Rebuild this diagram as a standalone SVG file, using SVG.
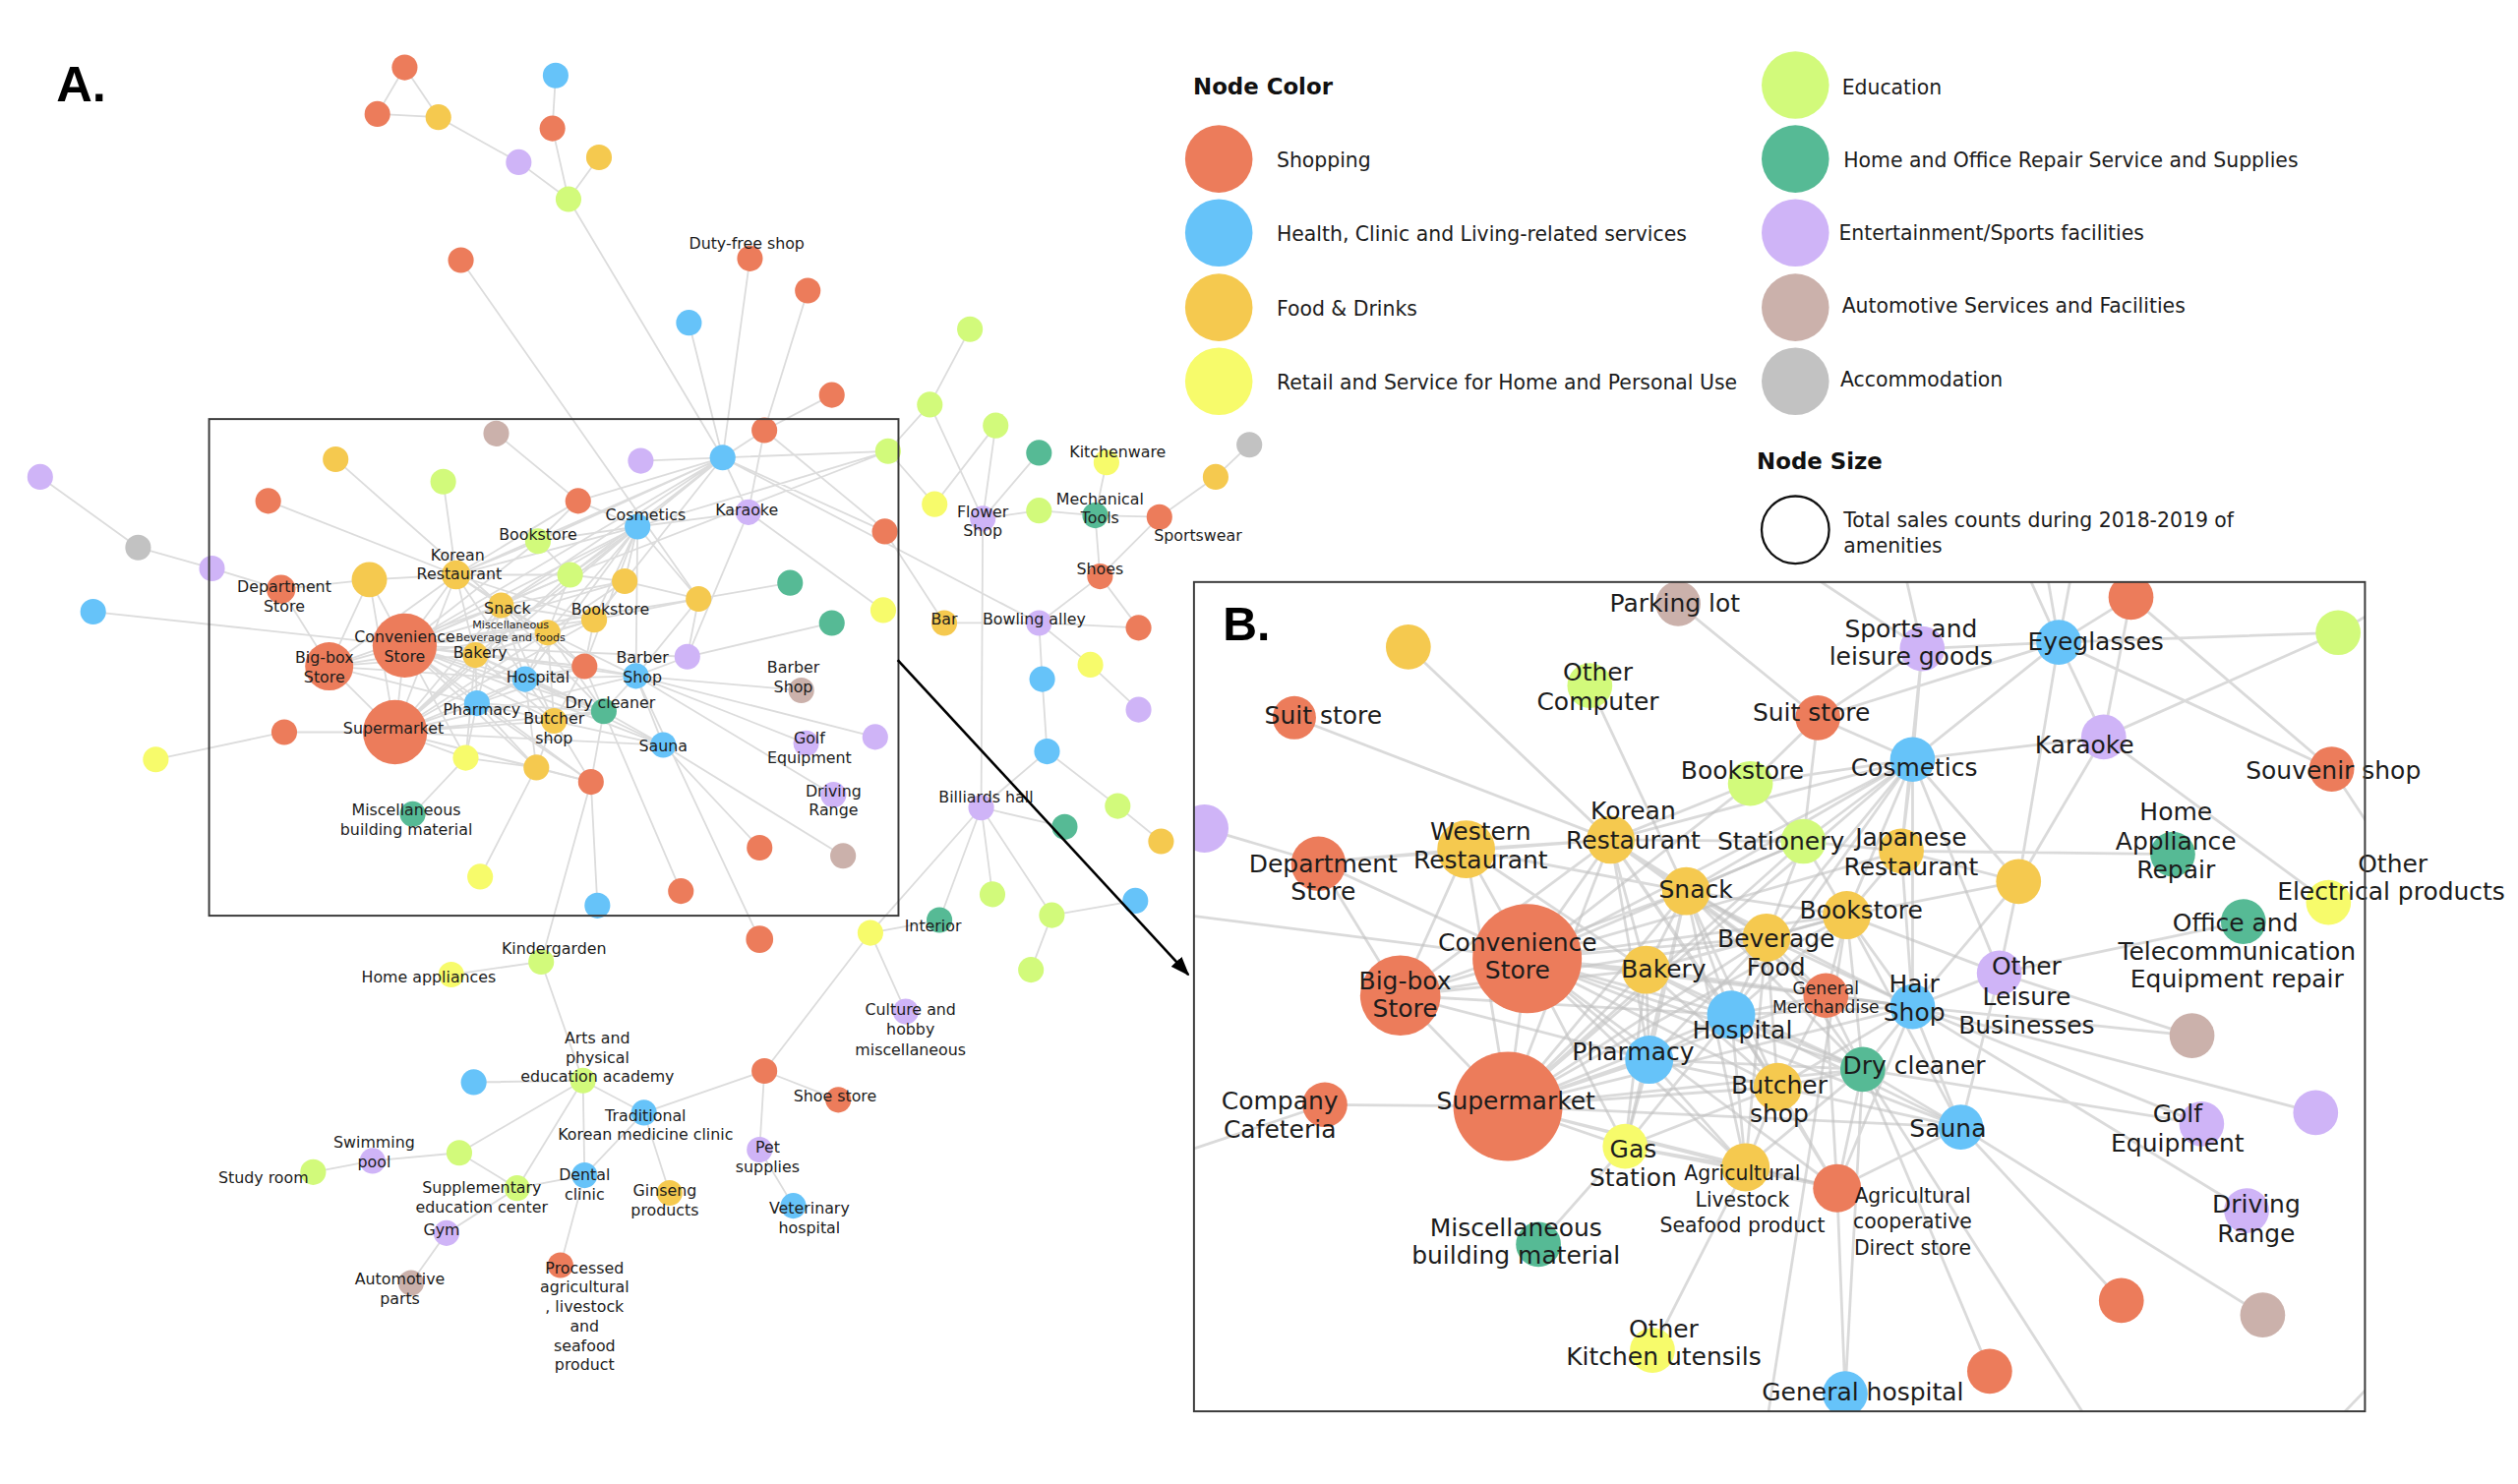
<svg xmlns="http://www.w3.org/2000/svg" width="2560" height="1509" viewBox="0 0 2560 1509">
<defs>
<style>
.ea path{fill:none;stroke:#dcdcdc;stroke-width:1.1}
.eb path{fill:none;stroke:#c2c2c2;stroke-width:1.7;stroke-opacity:.6}
text{font-family:"DejaVu Sans","Noto Sans",sans-serif;fill:#1c1c1c}
.la{font-size:9.7px;text-anchor:middle}
.ls{font-size:6.8px;text-anchor:middle}
.lb{font-size:15.3px;text-anchor:middle}
.lm{font-size:12.5px;text-anchor:middle}
.lx{font-size:10.5px;text-anchor:middle}
.lg{font-size:12.5px}
.hd{font-size:14px;font-weight:bold;fill:#111}
.big{font-family:"Liberation Sans",Arial,sans-serif;font-weight:bold;fill:#000}
.S{fill:#EC7C5B}.H{fill:#66C3F9}.F{fill:#F5C94F}.Y{fill:#F7FB6B}.E{fill:#D2FA7B}.R{fill:#56BA95}.P{fill:#CFB4F7}.A{fill:#CBB1AB}.C{fill:#C2C2C2}
.box{fill:none;stroke:#3a3a3a;stroke-width:1.2}
</style>
<clipPath id="cb"><rect x="743.5" y="362.5" width="729" height="516.5"/></clipPath>
<marker id="ah" markerUnits="userSpaceOnUse" markerWidth="12" markerHeight="9" refX="11" refY="4.5" orient="auto"><path d="M0 0L12 4.5L0 9z" fill="#000"/></marker>
</defs>
<rect width="2560" height="1509" fill="#fff"/>
<g transform="scale(1.632653)">
<text class="big" x="35" y="63" font-size="31">A.</text>

<g id="connectors-a" class="ea">
<path d="M252 42L235 71M252 42L273 73M235 71L273 73M273 73L323 101M323 101L354 124M346 47L344 80M344 80L354 124M373 98L354 124M354 124L450 285M287 162L435 373M467 161L450 285M429 201L450 285M503 181L476 268M518 246L476 268M476 268L450 285M476 268L466 319M476 268L551 330M450 285L399 287M450 285L553 281M450 285L647 388M553 281L579 252M579 252L604 205M579 252L612 323M553 281L582 314M620 265L582 314M620 265L612 323M647 282L612 323M689 288L682 321M757 297L778 277M757 297L722 322M612 323L647 318M647 318L682 321M682 321L722 322M682 321L685 359M685 359L722 322M685 359L647 388M685 359L709 391M588 388L647 388M647 388L709 391M551 331L588 388M647 388L649 423M647 388L679 414M679 414L709 442M649 423L652 468M652 468L611 503M652 468L696 502M696 502L723 524M612 323L611 503M611 503L663 515M611 503L618 557M611 503L655 570M611 503L585 573M611 503L542 581M655 570L707 561M655 570L642 604M585 573L542 581M542 581L564 630M542 581L476 667"/>
<path d="M25 297L86 341M86 341L132 354M132 354L175 367M175 367L230 361M230 361L284 358M58 381L252 402M97 473L177 456M177 456L246 456M167 312L284 358M209 286L312 377M276 300L284 358M309 270L360 312M360 312L450 285M360 312L335 337M360 312L284 358M257 507L290 472M299 546L334 478M372 564L368 487M368 487L337 599M337 599L281 607M337 599L363 673"/>
<path d="M363 673L295 674M363 673L286 718M363 673L322 740M363 673L364 732M363 673L401 693M286 718L232 723M232 723L195 730M286 718L322 740M322 740L278 768M278 768L256 799M322 740L364 732M364 732L401 693M364 732L349 788M401 693L417 743M401 693L476 667M476 667L522 685M476 667L473 716M473 716L494 751"/>
<path d="M466 319L397 328M466 319L550 380M466 319L428 409M435 373L492 363M428 409L518 388M396 421L499 430M396 421L545 459M396 421L502 463M396 421L519 495M413 464L473 528M413 464L525 533M376 443L424 555M396 421L473 585M450 285L551 331M450 285L397 328M450 285L335 337M450 285L284 358M450 285L312 377M450 285L252 402M450 285L370 386M450 285L466 319M450 285L355 358M553 281L397 328M553 281L355 358"/>
<path d="M252 402L246 456M252 402L205 415M246 456L205 415M252 402L284 358M252 402L312 377M252 402L296 408M252 402L341 394M252 402L327 423M252 402L297 438M252 402L345 449M252 402L376 443M252 402L364 415M252 402L370 386M252 402L335 337M252 402L355 358M252 402L389 362M252 402L397 328M252 402L396 421M252 402L413 464M252 402L230 361M252 402L290 472M252 402L334 478M252 402L368 487M252 402L428 409M252 402L435 373"/>
<path d="M246 456L284 358M246 456L312 377M246 456L296 408M246 456L341 394M246 456L327 423M246 456L297 438M246 456L345 449M246 456L376 443M246 456L364 415M246 456L370 386M246 456L355 358M246 456L397 328M246 456L396 421M246 456L413 464M246 456L290 472M246 456L334 478M246 456L368 487M246 456L230 361"/>
<path d="M205 415L284 358M205 415L312 377M205 415L296 408M205 415L327 423M205 415L297 438M205 415L175 367M205 415L230 361M205 415L341 394M284 358L312 377M284 358L296 408M284 358L335 337M284 358L355 358M284 358L341 394M284 358L327 423M284 358L370 386M284 358L397 328"/>
<path d="M312 377L296 408M312 377L341 394M312 377L355 358M312 377L327 423M312 377L297 438M312 377L345 449M312 377L370 386M312 377L397 328M312 377L376 443M312 377L364 415M312 377L389 362M296 408L341 394M296 408L327 423M296 408L297 438M296 408L345 449M296 408L376 443M296 408L364 415M296 408L370 386M296 408L397 328M296 408L290 472"/>
<path d="M341 394L327 423M341 394L370 386M341 394L364 415M341 394L345 449M341 394L376 443M341 394L397 328M341 394L355 358M341 394L389 362M341 394L396 421M327 423L297 438M327 423L345 449M327 423L376 443M327 423L364 415M327 423L396 421M327 423L413 464M327 423L334 478M327 423L397 328M297 438L345 449M297 438L376 443M297 438L290 472M297 438L334 478M297 438L368 487"/>
<path d="M345 449L376 443M345 449L364 415M345 449L334 478M345 449L368 487M345 449L413 464M376 443L364 415M376 443L396 421M376 443L413 464M376 443L368 487M364 415L396 421M364 415L370 386M364 415L397 328M396 421L413 464M396 421L428 409M396 421L397 328M396 421L435 373M397 328L335 337M397 328L355 358M397 328L389 362M397 328L370 386M397 328L360 312M435 373L428 409M435 373L370 386M435 373L389 362M435 373L397 328M335 337L355 358M355 358L389 362M389 362L370 386M290 472L334 478M334 478L368 487"/>
</g>

<g id="nodes-a">
<g id="a-n1"><circle class="S" cx="252" cy="42" r="8"/></g>
<g id="a-n2"><circle class="S" cx="235" cy="71" r="8"/></g>
<g id="a-n3"><circle class="S" cx="344" cy="80" r="8"/></g>
<g id="a-n4"><circle class="S" cx="287" cy="162" r="8"/></g>
<g id="a-n5"><circle class="S" cx="503" cy="181" r="8"/></g>
<g id="a-n6"><circle class="S" cx="518" cy="246" r="8"/></g>
<g id="a-n7"><circle class="S" cx="476" cy="268" r="8"/></g>
<g id="a-n8"><circle class="S" cx="167" cy="312" r="8"/></g>
<g id="a-n9"><circle class="S" cx="360" cy="312" r="8"/></g>
<g id="a-n10"><circle class="S" cx="177" cy="456" r="8"/></g>
<g id="a-n11"><circle class="S" cx="551" cy="331" r="8"/></g>
<g id="a-n12"><circle class="S" cx="364" cy="415" r="8"/></g>
<g id="a-n13"><circle class="S" cx="368" cy="487" r="8"/></g>
<g id="a-n14"><circle class="S" cx="473" cy="528" r="8"/></g>
<g id="a-n15"><circle class="S" cx="424" cy="555" r="8"/></g>
<g id="a-n16"><circle class="S" cx="473" cy="585" r="8.5"/></g>
<g id="a-n17"><circle class="S" cx="709" cy="391" r="8"/></g>
<g id="a-n18"><circle class="S" cx="476" cy="667" r="8"/></g>
<g id="a-n19"><circle class="H" cx="346" cy="47" r="8"/></g>
<g id="a-n20"><circle class="H" cx="429" cy="201" r="8"/></g>
<g id="a-n21"><circle class="H" cx="450" cy="285" r="8"/></g>
<g id="a-n22"><circle class="H" cx="58" cy="381" r="8"/></g>
<g id="a-n23"><circle class="H" cx="372" cy="564" r="8"/></g>
<g id="a-n24"><circle class="H" cx="649" cy="423" r="8"/></g>
<g id="a-n25"><circle class="H" cx="652" cy="468" r="8"/></g>
<g id="a-n26"><circle class="H" cx="707" cy="561" r="8"/></g>
<g id="a-n27"><circle class="H" cx="295" cy="674" r="8"/></g>
<g id="a-n28"><circle class="F" cx="273" cy="73" r="8"/></g>
<g id="a-n29"><circle class="F" cx="373" cy="98" r="8"/></g>
<g id="a-n30"><circle class="F" cx="209" cy="286" r="8"/></g>
<g id="a-n31"><circle class="F" cx="757" cy="297" r="8"/></g>
<g id="a-n32"><circle class="F" cx="230" cy="361" r="11"/></g>
<g id="a-n33"><circle class="F" cx="389" cy="362" r="8"/></g>
<g id="a-n34"><circle class="F" cx="435" cy="373" r="8"/></g>
<g id="a-n35"><circle class="F" cx="334" cy="478" r="8"/></g>
<g id="a-n36"><circle class="F" cx="723" cy="524" r="8"/></g>
<g id="a-n37"><circle class="Y" cx="97" cy="473" r="8"/></g>
<g id="a-n38"><circle class="Y" cx="290" cy="472" r="8"/></g>
<g id="a-n39"><circle class="Y" cx="299" cy="546" r="8"/></g>
<g id="a-n40"><circle class="Y" cx="550" cy="380" r="8"/></g>
<g id="a-n41"><circle class="Y" cx="582" cy="314" r="8"/></g>
<g id="a-n42"><circle class="Y" cx="679" cy="414" r="8"/></g>
<g id="a-n43"><circle class="Y" cx="542" cy="581" r="8"/></g>
<g id="a-n44"><circle class="E" cx="354" cy="124" r="8"/></g>
<g id="a-n45"><circle class="E" cx="276" cy="300" r="8"/></g>
<g id="a-n46"><circle class="E" cx="553" cy="281" r="8"/></g>
<g id="a-n47"><circle class="E" cx="579" cy="252" r="8"/></g>
<g id="a-n48"><circle class="E" cx="604" cy="205" r="8"/></g>
<g id="a-n49"><circle class="E" cx="620" cy="265" r="8"/></g>
<g id="a-n50"><circle class="E" cx="355" cy="358" r="8"/></g>
<g id="a-n51"><circle class="E" cx="647" cy="318" r="8"/></g>
<g id="a-n52"><circle class="E" cx="696" cy="502" r="8"/></g>
<g id="a-n53"><circle class="E" cx="618" cy="557" r="8"/></g>
<g id="a-n54"><circle class="E" cx="655" cy="570" r="8"/></g>
<g id="a-n55"><circle class="E" cx="642" cy="604" r="8"/></g>
<g id="a-n56"><circle class="E" cx="286" cy="718" r="8"/></g>
<g id="a-n57"><circle class="R" cx="647" cy="282" r="8"/></g>
<g id="a-n58"><circle class="R" cx="492" cy="363" r="8"/></g>
<g id="a-n59"><circle class="R" cx="518" cy="388" r="8"/></g>
<g id="a-n60"><circle class="R" cx="663" cy="515" r="8"/></g>
<g id="a-n61"><circle class="P" cx="323" cy="101" r="8"/></g>
<g id="a-n62"><circle class="P" cx="25" cy="297" r="8"/></g>
<g id="a-n63"><circle class="P" cx="132" cy="354" r="8"/></g>
<g id="a-n64"><circle class="P" cx="399" cy="287" r="8"/></g>
<g id="a-n65"><circle class="P" cx="428" cy="409" r="8"/></g>
<g id="a-n66"><circle class="P" cx="545" cy="459" r="8"/></g>
<g id="a-n67"><circle class="P" cx="709" cy="442" r="8"/></g>
<g id="a-n68"><circle class="A" cx="309" cy="270" r="8"/></g>
<g id="a-n69"><circle class="A" cx="525" cy="533" r="8"/></g>
<g id="a-n70"><circle class="C" cx="778" cy="277" r="8"/></g>
<g id="a-n71"><circle class="C" cx="86" cy="341" r="8"/></g>

<g id="a-convenience-store"><circle class="S" cx="252" cy="402" r="20"/><text class="la" x="252" y="400">Convenience<tspan x="252" dy="12">Store</tspan></text></g>
<g id="a-supermarket"><circle class="S" cx="246" cy="456" r="20"/><text class="la" x="245" y="457">Supermarket</text></g>
<g id="a-big-box-store"><circle class="S" cx="205" cy="415" r="15"/><text class="la" x="202" y="413">Big-box<tspan x="202" dy="12">Store</tspan></text></g>
<g id="a-department-store"><circle class="S" cx="175" cy="367" r="9"/><text class="la" x="177" y="369">Department<tspan x="177" dy="12">Store</tspan></text></g>
<g id="a-korean-restaurant"><circle class="F" cx="284" cy="358" r="9"/><text class="la" x="285" y="349">Korean<tspan x="286" dy="12">Restaurant</tspan></text></g>
<g id="a-duty-free-shop"><circle class="S" cx="467" cy="161" r="8"/><text class="la" x="465" y="155">Duty-free shop</text></g>
<g id="a-kitchenware"><circle class="Y" cx="689" cy="288" r="8"/><text class="la" x="696" y="285">Kitchenware</text></g>
<g id="a-mechanical-tools"><circle class="R" cx="682" cy="321" r="8"/><text class="la" x="685" y="314">Mechanical<tspan x="685" dy="12">Tools</tspan></text></g>
<g id="a-flower-shop"><circle class="P" cx="612" cy="323" r="8"/><text class="la" x="612" y="322">Flower<tspan x="612" dy="12">Shop</tspan></text></g>
<g id="a-sportswear"><circle class="S" cx="722" cy="322" r="8"/><text class="la" x="746" y="337">Sportswear</text></g>
<g id="a-shoes"><circle class="S" cx="685" cy="359" r="8"/><text class="la" x="685" y="358">Shoes</text></g>
<g id="a-bar"><circle class="F" cx="588" cy="388" r="8"/><text class="la" x="588" y="389">Bar</text></g>
<g id="a-bowling-alley"><circle class="P" cx="647" cy="388" r="8"/><text class="la" x="644" y="389">Bowling alley</text></g>
<g id="a-cosmetics"><circle class="H" cx="397" cy="328" r="8"/><text class="la" x="402" y="324">Cosmetics</text></g>
<g id="a-karaoke"><circle class="P" cx="466" cy="319" r="8"/><text class="la" x="465" y="321">Karaoke</text></g>
<g id="a-bookstore-1"><circle class="E" cx="335" cy="337" r="8"/><text class="la" x="335" y="336">Bookstore</text></g>
<g id="a-snack"><circle class="F" cx="312" cy="377" r="8"/><text class="la" x="316" y="382">Snack</text></g>
<g id="a-bookstore-2"><circle class="F" cx="370" cy="386" r="8"/><text class="la" x="380" y="383">Bookstore</text></g>
<g id="a-misc-beverage"><circle class="F" cx="341" cy="394" r="8"/><text class="ls" x="318" y="391.5">Miscellaneous<tspan x="318" dy="7.8">Beverage and foods</tspan></text></g>
<g id="a-bakery"><circle class="F" cx="296" cy="408" r="8"/><text class="la" x="299" y="410">Bakery</text></g>
<g id="a-hospital"><circle class="H" cx="327" cy="423" r="8"/><text class="la" x="335" y="425">Hospital</text></g>
<g id="a-barber-shop"><circle class="H" cx="396" cy="421" r="8"/><text class="la" x="400" y="413">Barber<tspan x="400" dy="12">Shop</tspan></text></g>
<g id="a-barber-shop-2"><circle class="A" cx="499" cy="430" r="8"/><text class="la" x="494" y="419">Barber<tspan x="494" dy="12">Shop</tspan></text></g>
<g id="a-pharmacy"><circle class="H" cx="297" cy="438" r="8"/><text class="la" x="300" y="445">Pharmacy</text></g>
<g id="a-dry-cleaner"><circle class="R" cx="376" cy="443" r="8"/><text class="la" x="380" y="441">Dry cleaner</text></g>
<g id="a-butcher-shop"><circle class="F" cx="345" cy="449" r="8"/><text class="la" x="345" y="451">Butcher<tspan x="345" dy="12">shop</tspan></text></g>
<g id="a-sauna"><circle class="H" cx="413" cy="464" r="8"/><text class="la" x="413" y="468">Sauna</text></g>
<g id="a-golf-equipment"><circle class="P" cx="502" cy="463" r="8"/><text class="la" x="504" y="463">Golf<tspan x="504" dy="12">Equipment</tspan></text></g>
<g id="a-driving-range"><circle class="P" cx="519" cy="495" r="8"/><text class="la" x="519" y="496">Driving<tspan x="519" dy="12">Range</tspan></text></g>
<g id="a-billiards-hall"><circle class="P" cx="611" cy="503" r="8"/><text class="la" x="614" y="500">Billiards hall</text></g>
<g id="a-misc-building"><circle class="R" cx="257" cy="507" r="8"/><text class="la" x="253" y="508">Miscellaneous<tspan x="253" dy="12">building material</tspan></text></g>
<g id="a-interior"><circle class="R" cx="585" cy="573" r="8"/><text class="la" x="581" y="580">Interior</text></g>
<g id="a-kindergarden"><circle class="E" cx="337" cy="599" r="8"/><text class="la" x="345" y="594">Kindergarden</text></g>
<g id="a-home-appliances"><circle class="Y" cx="281" cy="607" r="8"/><text class="la" x="267" y="612">Home appliances</text></g>
<g id="a-culture-hobby"><circle class="P" cx="564" cy="630" r="8"/><text class="la" x="567" y="632">Culture and<tspan x="567" dy="12.5">hobby</tspan><tspan x="567" dy="12.5">miscellaneous</tspan></text></g>
<g id="a-arts-academy"><circle class="E" cx="363" cy="673" r="8"/><text class="la" x="372" y="650">Arts and<tspan x="372" dy="12">physical</tspan><tspan x="372" dy="12">education academy</tspan></text></g>
<g id="a-shoe-store"><circle class="S" cx="522" cy="685" r="8"/><text class="la" x="520" y="686">Shoe store</text></g>
<g id="a-traditional-clinic"><circle class="H" cx="401" cy="693" r="8"/><text class="la" x="402" y="698">Traditional<tspan x="402" dy="12">Korean medicine clinic</tspan></text></g>
<g id="a-swimming-pool"><circle class="P" cx="232" cy="723" r="8"/><text class="la" x="233" y="715">Swimming<tspan x="233" dy="12">pool</tspan></text></g>
<g id="a-pet-supplies"><circle class="P" cx="473" cy="716" r="8"/><text class="la" x="478" y="718">Pet<tspan x="478" dy="12">supplies</tspan></text></g>
<g id="a-study-room"><circle class="E" cx="195" cy="730" r="8"/><text class="la" x="164" y="737">Study room</text></g>
<g id="a-supplementary"><circle class="E" cx="322" cy="740" r="8"/><text class="la" x="300" y="743">Supplementary<tspan x="300" dy="12">education center</tspan></text></g>
<g id="a-dental-clinic"><circle class="H" cx="364" cy="732" r="8"/><text class="la" x="364" y="735">Dental<tspan x="364" dy="12">clinic</tspan></text></g>
<g id="a-ginseng"><circle class="F" cx="417" cy="743" r="8"/><text class="la" x="414" y="745">Ginseng<tspan x="414" dy="12">products</tspan></text></g>
<g id="a-veterinary"><circle class="H" cx="494" cy="751" r="8"/><text class="la" x="504" y="756">Veterinary<tspan x="504" dy="12">hospital</tspan></text></g>
<g id="a-gym"><circle class="P" cx="278" cy="768" r="8"/><text class="la" x="275" y="769">Gym</text></g>
<g id="a-automotive-parts"><circle class="A" cx="256" cy="799" r="8"/><text class="la" x="249" y="800">Automotive<tspan x="249" dy="12">parts</tspan></text></g>
<g id="a-processed"><circle class="S" cx="349" cy="788" r="8"/><text class="la" x="364" y="793">Processed<tspan x="364" dy="12">agricultural</tspan><tspan x="364" dy="12">, livestock</tspan><tspan x="364" dy="12.3">and</tspan><tspan x="364" dy="12">seafood</tspan><tspan x="364" dy="12">product</tspan></text></g>
</g>

<rect id="zoom-frame-a" class="box" x="130.2" y="261" width="429.3" height="309.3"/>
<path id="zoom-arrow" d="M559 411L740 607" stroke="#000" stroke-width="1.6" fill="none" marker-end="url(#ah)"/>

<g id="legend">
<text class="hd" x="743" y="59">Node Color</text>
<g id="lg-shopping"><circle class="S" cx="759" cy="99" r="21"/><text class="lg" x="795" y="104">Shopping</text></g>
<g id="lg-health"><circle class="H" cx="759" cy="145" r="21"/><text class="lg" x="795" y="150">Health, Clinic and Living-related services</text></g>
<g id="lg-food"><circle class="F" cx="759" cy="191.5" r="21"/><text class="lg" x="795" y="196.5">Food &amp; Drinks</text></g>
<g id="lg-retail"><circle class="Y" cx="759" cy="237.5" r="21"/><text class="lg" x="795" y="242.5">Retail and Service for Home and Personal Use</text></g>
<g id="lg-education"><circle class="E" cx="1118" cy="53" r="21"/><text class="lg" x="1147" y="59">Education</text></g>
<g id="lg-repair"><circle class="R" cx="1118" cy="99" r="21"/><text class="lg" x="1148" y="104">Home and Office Repair Service and Supplies</text></g>
<g id="lg-entertainment"><circle class="P" cx="1118" cy="145" r="21"/><text class="lg" x="1145" y="149.5">Entertainment/Sports facilities</text></g>
<g id="lg-automotive"><circle class="A" cx="1118" cy="191.5" r="21"/><text class="lg" x="1147" y="194.5">Automotive Services and Facilities</text></g>
<g id="lg-accommodation"><circle class="C" cx="1118" cy="237.5" r="21"/><text class="lg" x="1146" y="240.5">Accommodation</text></g>
<text class="hd" x="1094" y="292">Node Size</text>
<g id="lg-size"><circle cx="1118" cy="330" r="21" fill="#fff" stroke="#111" stroke-width="1.4"/><text class="lg" x="1148" y="328.5">Total sales counts during 2018-2019 of</text><text class="lg" x="1148" y="344">amenities</text></g>
</g>

<text class="big" x="761.5" y="399" font-size="29.5">B.</text>

<g id="connectors-b" class="eb" clip-path="url(#cb)">
<path d="M951 597L939 689M951 597L872 620M951 597L1003 523M951 597L913 529M951 597L1050 555M951 597L1025 604M951 597L1100 584M951 597L1150 570M951 597L1137 620M951 597L1078 632M951 597L1027 660M951 597L1107 677M951 597L1012 714M951 597L1087 727M951 597L1191 627M951 597L1160 666M951 597L1191 473M951 597L1090 488M951 597L1123 524M951 597L1184 530M951 597L1221 702M951 597L1144 740M951 597L821 537"/>
<path d="M939 689L872 620M939 689L1003 523M939 689L1050 555M939 689L1025 604M939 689L1100 584M939 689L1137 620M939 689L1078 632M939 689L1027 660M939 689L1107 677M939 689L1012 714M939 689L1087 727M939 689L1144 740M939 689L1191 627M939 689L1160 666M939 689L1191 473M939 689L1123 524M939 689L1221 702M939 689L825 688M939 689L913 529M939 689L1150 570"/>
<path d="M872 620L1003 523M872 620L913 529M872 620L1050 555M872 620L1025 604M872 620L1027 660M872 620L1078 632M872 620L1100 584M872 620L821 537M1003 523L913 529M1003 523L1050 555M1003 523L1025 604M1003 523L1100 584M1003 523L1123 524M1003 523L1090 488M1003 523L1078 632M1003 523L1027 660M1003 523L1191 473M1003 523L1107 677M1003 523L1137 620M1003 523L806 447M1003 523L877 403M1003 523L821 537M913 529L821 537M913 529L1050 555M913 529L1025 604"/>
<path d="M1050 555L1025 604M1050 555L1100 584M1050 555L1078 632M1050 555L1027 660M1050 555L1107 677M1050 555L1137 620M1050 555L1150 570M1050 555L1191 473M1050 555L1123 524M1050 555L1191 627M1050 555L1160 666M1050 555L1012 714M1050 555L1087 727M1050 555L990 427M1025 604L1100 584M1025 604L1078 632M1025 604L1027 660M1025 604L1107 677M1025 604L1137 620M1025 604L1012 714M1025 604L1160 666M1025 604L1191 627M1025 604L1150 570"/>
<path d="M1100 584L1137 620M1100 584L1078 632M1100 584L1150 570M1100 584L1191 627M1100 584L1160 666M1100 584L1107 677M1100 584L1191 473M1100 584L1123 524M1100 584L1087 727M1100 584L1027 660M1150 570L1137 620M1150 570L1191 627M1150 570L1191 473M1150 570L1123 524M1150 570L1184 530M1150 570L1160 666M1150 570L1245 606M1150 570L1257 549M1150 570L1221 702M1150 570L1078 632"/>
<path d="M1137 620L1078 632M1137 620L1191 627M1137 620L1160 666M1137 620L1107 677M1137 620L1144 740M1078 632L1027 660M1078 632L1107 677M1078 632L1191 627M1078 632L1160 666M1078 632L1012 714M1078 632L1087 727M1078 632L1144 740M1078 632L1221 702M1078 632L1191 473M1027 660L1107 677M1027 660L1012 714M1027 660L1087 727M1027 660L1160 666M1107 677L1160 666M1107 677L1012 714M1107 677L1087 727M1107 677L1144 740M1107 677L1191 627M1107 677L1221 702"/>
<path d="M1012 714L1087 727M1012 714L958 775M1012 714L1144 740M1087 727L1144 740M1087 727L1029 841M1087 727L1160 666M1144 740L1160 666M1144 740L1191 627M1144 740L1221 702M1144 740L1149 868M1191 627L1160 666M1191 627L1221 702M1191 627L1245 606M1191 627L1191 473M1191 627L1184 530M1191 627L1257 549M1191 627L1365 645M1191 627L1442 693M1191 627L1371 700M1191 627L1399 754M1160 666L1221 702M1160 666L1239 854M1160 666L1149 868M1160 666L1371 700M1221 702L1321 810M1221 702L1409 819M1221 702L1245 606"/>
<path d="M1191 473L1090 488M1191 473L1123 524M1191 473L1184 530M1191 473L1282 400M1191 473L1197 404M1191 473L1310 459M1191 473L1132 447M1191 473L1257 549M1191 473L1245 606M1090 488L1123 524M1090 488L1132 447M1123 524L1184 530M1123 524L1132 447M1184 530L1257 549M1184 530L1353 532M1184 530L1197 404M1257 549L1310 459M1257 549L1245 606M1257 549L1282 400M1282 400L1197 404M1282 400L1310 459M1282 400L1327 372M1282 400L1456 394M1282 400L1452 479M1282 400L1132 447M1310 459L1327 372M1310 459L1456 394M1310 459L1450 562M1327 372L1452 479M1245 606L1365 645M1245 606L1397 574M1132 447L1045 376M1132 447L1197 404M750 516L821 537"/>
<path d="M825 688L700 730M951 597L700 565M1150 570L1098 900M1160 666L1310 900M1282 400L1250 330M1282 400L1270 330M1282 400L1295 330M1197 404L1180 330M1197 404L1100 340M1456 394L1500 368M1452 479L1500 552M1440 900L1500 838"/>
</g>

<g id="nodes-b">
<g id="b-n1"><circle class="F" cx="877" cy="403" r="14"/></g>
<g id="b-n2"><circle class="P" cx="750" cy="516" r="15" clip-path="url(#cb)"/></g>
<g id="b-n3"><circle class="F" cx="1257" cy="549" r="14"/></g>
<g id="b-n4"><circle class="A" cx="1365" cy="645" r="14"/></g>
<g id="b-n5"><circle class="P" cx="1442" cy="693" r="14"/></g>
<g id="b-n6"><circle class="S" cx="1321" cy="810" r="14"/></g>
<g id="b-n7"><circle class="A" cx="1409" cy="819" r="14"/></g>
<g id="b-n8"><circle class="S" cx="1239" cy="854" r="14"/></g>
<g id="b-n9"><circle class="S" cx="1327" cy="372" r="14" clip-path="url(#cb)"/></g>
<g id="b-n10"><circle class="E" cx="1456" cy="394" r="14"/></g>

<g id="b-convenience-store"><circle class="S" cx="951" cy="597" r="34"/><text class="lb" x="945" y="592">Convenience<tspan x="945" dy="17.5">Store</tspan></text></g>
<g id="b-supermarket"><circle class="S" cx="939" cy="689" r="34"/><text class="lb" x="944" y="691">Supermarket</text></g>
<g id="b-big-box-store"><circle class="S" cx="872" cy="620" r="25"/><text class="lb" x="875" y="616">Big-box<tspan x="875" dy="17.5">Store</tspan></text></g>
<g id="b-department-store"><circle class="S" cx="821" cy="538" r="17"/><text class="lb" x="824" y="543">Department<tspan x="824" dy="17.5">Store</tspan></text></g>
<g id="b-western-restaurant"><circle class="F" cx="913" cy="529" r="18"/><text class="lb" x="922" y="523">Western<tspan x="922" dy="18">Restaurant</tspan></text></g>
<g id="b-korean-restaurant"><circle class="F" cx="1003" cy="523" r="15"/><text class="lb" x="1017" y="510">Korean<tspan x="1017" dy="18.5">Restaurant</tspan></text></g>
<g id="b-parking-lot"><circle class="A" cx="1045" cy="376" r="14"/><text class="lb" x="1043" y="381">Parking lot</text></g>
<g id="b-sports-leisure"><circle class="P" cx="1197" cy="404" r="14"/><text class="lb" x="1190" y="397">Sports and<tspan x="1190" dy="17">leisure goods</tspan></text></g>
<g id="b-eyeglasses"><circle class="H" cx="1282" cy="400" r="14"/><text class="lb" x="1305" y="405">Eyeglasses</text></g>
<g id="b-other-computer"><circle class="E" cx="990" cy="427" r="14"/><text class="lb" x="995" y="424">Other<tspan x="995" dy="18">Computer</tspan></text></g>
<g id="b-suit-store-1"><circle class="S" cx="806" cy="447" r="13.5"/><text class="lb" x="824" y="451">Suit store</text></g>
<g id="b-suit-store-2"><circle class="S" cx="1132" cy="447" r="14"/><text class="lb" x="1128" y="449">Suit store</text></g>
<g id="b-bookstore-1"><circle class="E" cx="1090" cy="488" r="14"/><text class="lb" x="1085" y="485">Bookstore</text></g>
<g id="b-cosmetics"><circle class="H" cx="1191" cy="473" r="14"/><text class="lb" x="1192" y="483">Cosmetics</text></g>
<g id="b-karaoke"><circle class="P" cx="1310" cy="459" r="14"/><text class="lb" x="1298" y="469">Karaoke</text></g>
<g id="b-souvenir-shop"><circle class="S" cx="1452" cy="479" r="14"/><text class="lb" x="1453" y="485">Souvenir shop</text></g>
<g id="b-home-appliance-repair"><circle class="R" cx="1353" cy="532" r="14"/><text class="lb" x="1355" y="511">Home<tspan x="1355" dy="18.5">Appliance</tspan><tspan x="1355" dy="17.5">Repair</tspan></text></g>
<g id="b-other-electrical"><circle class="Y" cx="1450" cy="562" r="14"/><text class="lb" x="1490" y="543">Other<tspan x="1489" dy="17.5">Electrical products</tspan></text></g>
<g id="b-stationery"><circle class="E" cx="1123" cy="524" r="14"/><text class="lb" x="1109" y="529">Stationery</text></g>
<g id="b-japanese-restaurant"><circle class="F" cx="1184" cy="530" r="14"/><text class="lb" x="1190" y="527">Japanese<tspan x="1190" dy="18">Restaurant</tspan></text></g>
<g id="b-snack"><circle class="F" cx="1050" cy="555" r="15"/><text class="lb" x="1056" y="559">Snack</text></g>
<g id="b-bookstore-2"><circle class="F" cx="1150" cy="570" r="15"/><text class="lb" x="1159" y="572">Bookstore</text></g>
<g id="b-beverage-food"><circle class="F" cx="1100" cy="584" r="15"/><text class="lb" x="1106" y="590">Beverage<tspan x="1106" dy="17.5">Food</tspan></text></g>
<g id="b-bakery"><circle class="F" cx="1025" cy="604" r="15"/><text class="lb" x="1036" y="609">Bakery</text></g>
<g id="b-general-merchandise"><circle class="S" cx="1137" cy="620" r="14"/><text class="lx" x="1137" y="619">General<tspan x="1137" dy="12">Merchandise</tspan></text></g>
<g id="b-hair-shop"><circle class="H" cx="1191" cy="627" r="14"/><text class="lb" x="1192" y="618">Hair<tspan x="1192" dy="17.5">Shop</tspan></text></g>
<g id="b-other-leisure"><circle class="P" cx="1245" cy="606" r="14"/><text class="lb" x="1262" y="607">Other<tspan x="1262" dy="19">Leisure</tspan><tspan x="1262" dy="18">Businesses</tspan></text></g>
<g id="b-office-telecom-repair"><circle class="R" cx="1397" cy="574" r="14"/><text class="lb" x="1392" y="580">Office and<tspan x="1393" dy="18">Telecommunication</tspan><tspan x="1393" dy="17">Equipment repair</tspan></text></g>
<g id="b-hospital"><circle class="H" cx="1078" cy="632" r="15"/><text class="lb" x="1085" y="647">Hospital</text></g>
<g id="b-pharmacy"><circle class="H" cx="1027" cy="660" r="15"/><text class="lb" x="1017" y="660">Pharmacy</text></g>
<g id="b-dry-cleaner"><circle class="R" cx="1160" cy="666" r="14"/><text class="lb" x="1192" y="669">Dry cleaner</text></g>
<g id="b-butcher-shop"><circle class="F" cx="1107" cy="677" r="15"/><text class="lb" x="1108" y="681">Butcher<tspan x="1108" dy="18">shop</tspan></text></g>
<g id="b-company-cafeteria"><circle class="S" cx="825" cy="688" r="14"/><text class="lb" x="797" y="691">Company<tspan x="797" dy="17.5">Cafeteria</tspan></text></g>
<g id="b-golf-equipment"><circle class="P" cx="1371" cy="700" r="14"/><text class="lb" x="1356" y="699">Golf<tspan x="1356" dy="18.5">Equipment</tspan></text></g>
<g id="b-sauna"><circle class="H" cx="1221" cy="702" r="14"/><text class="lb" x="1213" y="708">Sauna</text></g>
<g id="b-gas-station"><circle class="Y" cx="1012" cy="714" r="14"/><text class="lb" x="1017" y="721">Gas<tspan x="1017" dy="17.5">Station</tspan></text></g>
<g id="b-agri-livestock"><circle class="F" cx="1087" cy="727" r="15"/><text class="lm" x="1085" y="735">Agricultural<tspan x="1085" dy="16.3">Livestock</tspan><tspan x="1085" dy="16.3">Seafood product</tspan></text></g>
<g id="b-agri-coop"><circle class="S" cx="1144" cy="740" r="15"/><text class="lm" x="1191" y="749">Agricultural<tspan x="1191" dy="16">cooperative</tspan><tspan x="1191" dy="16.3">Direct store</tspan></text></g>
<g id="b-driving-range"><circle class="P" cx="1399" cy="754" r="14"/><text class="lb" x="1405" y="755">Driving<tspan x="1405" dy="18.8">Range</tspan></text></g>
<g id="b-misc-building"><circle class="R" cx="958" cy="775" r="14"/><text class="lb" x="944" y="770">Miscellaneous<tspan x="944" dy="17.3">building material</tspan></text></g>
<g id="b-other-kitchen"><circle class="Y" cx="1029" cy="841" r="14"/><text class="lb" x="1036" y="833">Other<tspan x="1036" dy="17.3">Kitchen utensils</tspan></text></g>
<g id="b-general-hospital"><circle class="H" cx="1149" cy="868" r="14" clip-path="url(#cb)"/><text class="lb" x="1160" y="872">General hospital</text></g>
</g>

<rect id="zoom-frame-b" class="box" x="743.5" y="362.5" width="729.2" height="516.5" stroke="#555"/>
</g>
</svg>
